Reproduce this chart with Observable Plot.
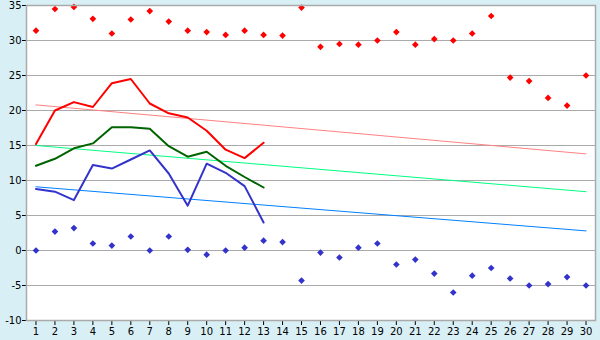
<!DOCTYPE html>
<html>
<head>
<meta charset="utf-8">
<script src="https://cdn.jsdelivr.net/npm/d3@7"></script>
<script src="https://cdn.jsdelivr.net/npm/@observablehq/plot@0.6"></script>
<style>
  html, body { margin: 0; padding: 0; background: #d9eff6; overflow: hidden; }
  #chart { width: 600px; height: 340px; }
</style>
</head>
<body>
<div id="chart"></div>
<script>
const days = [1,2,3,4,5,6,7,8,9,10,11,12,13,14,15,16,17,18,19,20,21,22,23,24,25,26,27,28,29,30];
const maxRecord = [31.4,34.5,34.8,33.1,31.0,33.0,34.2,32.7,31.4,31.2,30.8,31.4,30.8,30.7,34.7,29.1,29.5,29.4,30.0,31.2,29.4,30.2,30.0,31.0,33.5,24.7,24.2,21.8,20.7,25.0];
const minRecord = [0.0,2.7,3.2,1.0,0.7,2.0,0.0,2.0,0.1,-0.6,0.0,0.4,1.4,1.2,-4.3,-0.3,-1.0,0.4,1.0,-2.0,-1.3,-3.3,-6.0,-3.6,-2.5,-4.0,-5.0,-4.8,-3.8,-5.0];
const lineDays = [1,2,3,4,5,6,7,8,9,10,11,12,13];
const maxTemp = [15.2,20.0,21.2,20.5,23.9,24.5,21.0,19.6,19.0,17.1,14.4,13.2,15.4];
const meanTemp = [12.1,13.1,14.6,15.3,17.6,17.6,17.4,14.9,13.4,14.1,12.1,10.5,9.0];
const minTemp = [8.8,8.4,7.2,12.2,11.7,13.0,14.3,11.0,6.4,12.4,11.1,9.2,4.0];
const trendDays = [1,30];
const trendMax = [20.8,13.8];
const trendMean = [15.0,8.4];
const trendMin = [9.1,2.8];
const yTicks = [-10,-5,0,5,10,15,20,25,30,35];

const pts = (xs, ys) => xs.map((x,i) => ({x, y: ys[i]}));

const chart = Plot.plot({
  width: 600,
  height: 340,
  marginLeft: 26,
  marginRight: 5,
  marginTop: 5,
  marginBottom: 20,
  style: {fontFamily: "DejaVu Sans", fontSize: "10px", color: "#000", background: "transparent"},
  x: {domain: [0.5, 30.5], ticks: days},
  y: {domain: [-10, 35], ticks: yTicks},
  marks: [
    Plot.frame({fill: "white", stroke: null}),
    Plot.ruleY(yTicks, {stroke: "#aaaaaa", strokeWidth: 1}),
    Plot.line(pts(trendDays, trendMax), {x: "x", y: "y", stroke: "#ff8080", strokeWidth: 1}),
    Plot.line(pts(trendDays, trendMean), {x: "x", y: "y", stroke: "#00ff80", strokeWidth: 1}),
    Plot.line(pts(trendDays, trendMin), {x: "x", y: "y", stroke: "#0080ff", strokeWidth: 1}),
    Plot.line(pts(lineDays, maxTemp), {x: "x", y: "y", stroke: "#ff0000", strokeWidth: 2}),
    Plot.line(pts(lineDays, meanTemp), {x: "x", y: "y", stroke: "#006400", strokeWidth: 2}),
    Plot.line(pts(lineDays, minTemp), {x: "x", y: "y", stroke: "#3333cc", strokeWidth: 2}),
    Plot.dot(pts(days, maxRecord), {x: "x", y: "y", symbol: "diamond2", r: 3, fill: "#ff0000"}),
    Plot.dot(pts(days, minRecord), {x: "x", y: "y", symbol: "diamond2", r: 3, fill: "#3333cc"}),
    Plot.axisX({ticks: days, tickSize: 5, tickPadding: 2, tickFormat: d => String(d), label: null, stroke: "#000"}),
    Plot.axisY({ticks: yTicks, tickSize: 4, tickPadding: 1, tickFormat: d => String(d), label: null, stroke: "#000"}),
    Plot.frame({stroke: "#aaaaaa", strokeWidth: 1.5})
  ]
});
document.getElementById("chart").appendChild(chart);
</script>
</body>
</html>
